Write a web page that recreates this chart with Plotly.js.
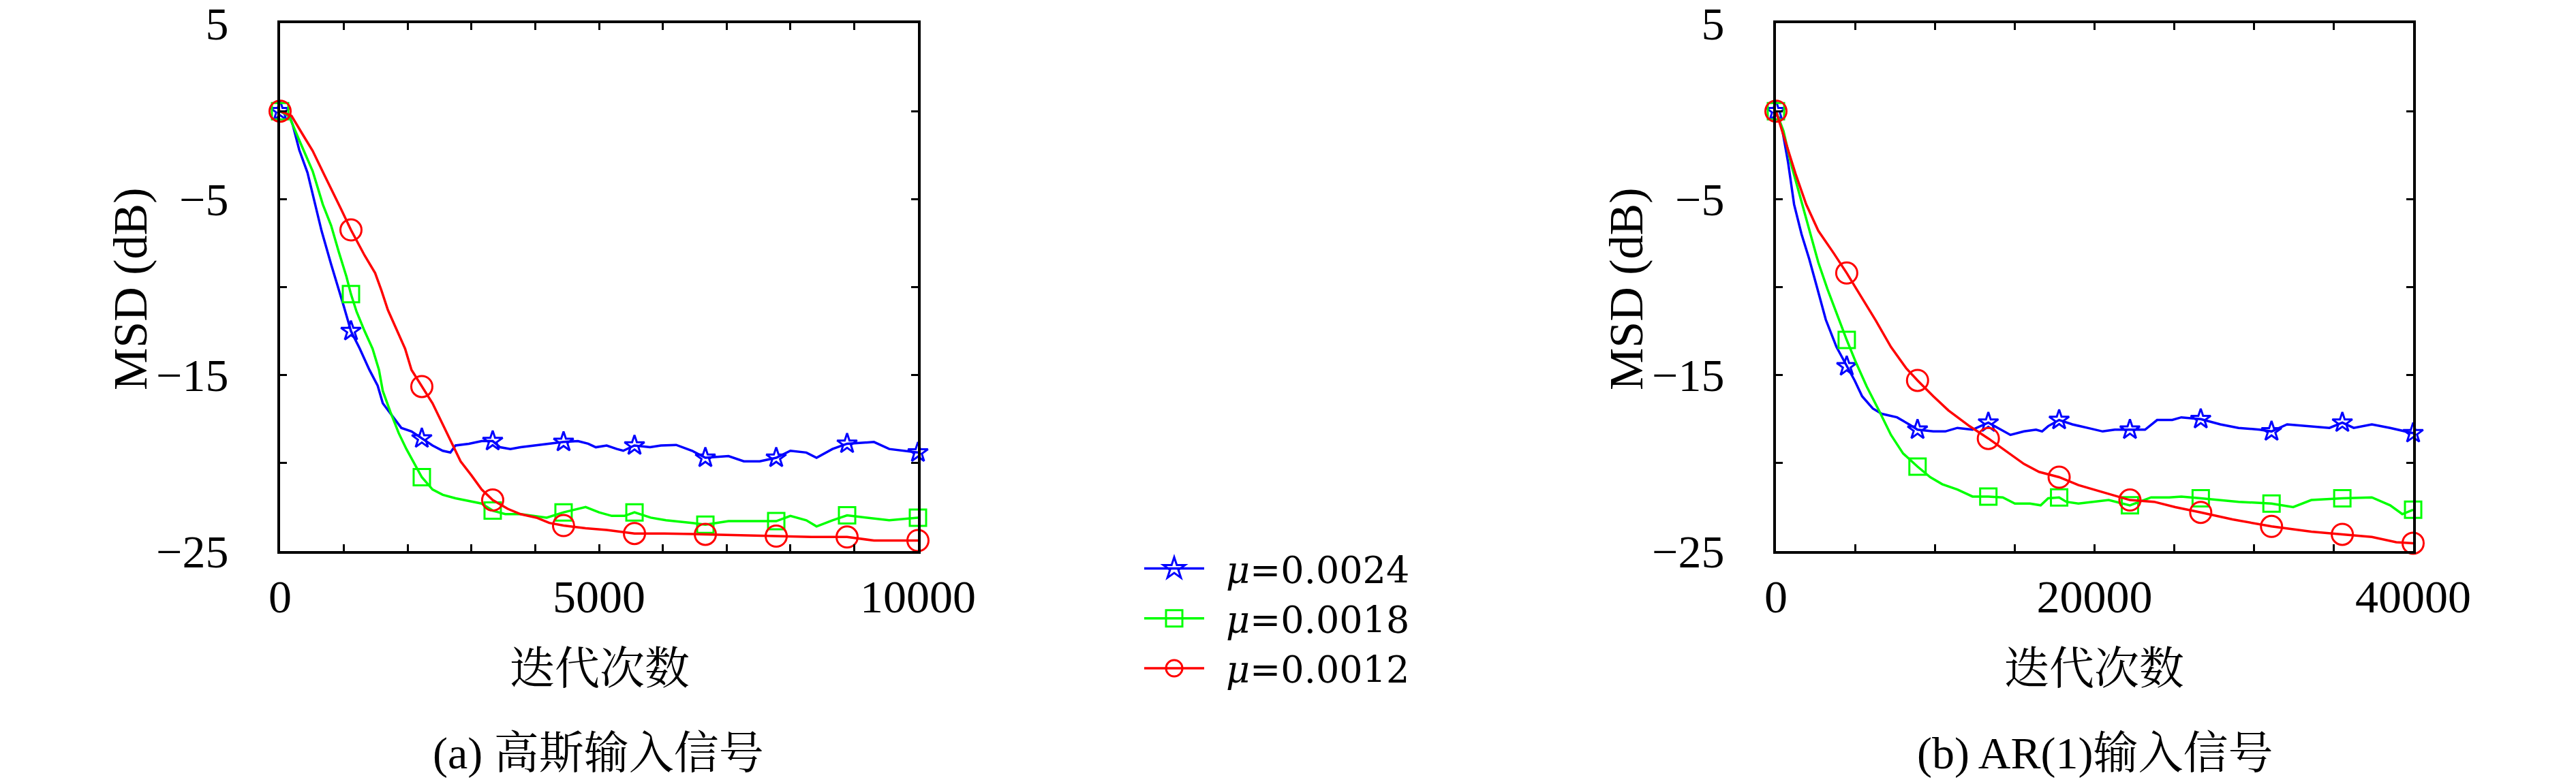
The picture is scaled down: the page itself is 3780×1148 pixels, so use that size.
<!DOCTYPE html>
<html><head><meta charset="utf-8">
<script src="https://cdn.plot.ly/plotly-3.0.1.min.js"></script>
<style>html,body{margin:0;padding:0;background:#fff}</style>
</head><body><div id="chart" style="width:3780px;height:1148px"></div>
<script>
// ---------- data ----------
const seriesNames = ['\u2002<i>μ</i>=0.0024', '\u2002<i>μ</i>=0.0018', '\u2002<i>μ</i>=0.0012'];

// (a) Gaussian input
const leftBlueX = [0,150,200,300,430,550,650,800,920,1000,1111,1250,1400,1530,1610,1730,1900,2060,2222,2390,2550,2670,2750,2960,3160,3333,3450,3610,3770,3980,4180,4444,4670,4830,4950,5120,5280,5380,5556,5800,5970,6210,6460,6667,7030,7270,7520,7778,8000,8250,8410,8660,8889,9310,9550,9800,10000];
const leftBlueY = [0,-0.3,-0.8,-2.2,-3.5,-5.3,-6.8,-8.7,-10.1,-11.1,-12.5,-13.5,-14.7,-15.6,-16.6,-17.2,-18.0,-18.2,-18.6,-19.0,-19.3,-19.4,-19.0,-18.9,-18.75,-18.75,-19.1,-19.2,-19.1,-19.0,-18.9,-18.8,-18.75,-18.9,-19.1,-19.0,-19.2,-19.3,-19.0,-19.1,-19.0,-18.97,-19.3,-19.7,-19.6,-19.9,-19.9,-19.7,-19.3,-19.4,-19.7,-19.2,-18.9,-18.8,-19.2,-19.3,-19.4];
const leftGreenX = [0,140,300,510,670,800,920,1040,1111,1200,1325,1450,1550,1610,1730,1860,1980,2100,2222,2390,2550,2750,2960,3160,3333,3530,3770,3980,4180,4444,4790,5000,5200,5400,5556,5810,6050,6460,6667,7030,7350,7778,8000,8250,8410,8660,8889,9230,9550,10000];
const leftGreenY = [0,-0.27,-1.65,-3.4,-5.3,-6.5,-8.0,-9.4,-10.4,-11.4,-12.5,-13.5,-14.7,-15.9,-17.1,-18.3,-19.2,-20.0,-20.8,-21.5,-21.8,-22.0,-22.15,-22.3,-22.7,-22.9,-22.9,-23.0,-23.1,-22.8,-22.5,-22.8,-23.0,-23.0,-22.8,-23.1,-23.25,-23.4,-23.5,-23.3,-23.3,-23.3,-23.0,-23.25,-23.6,-23.25,-22.97,-23.1,-23.25,-23.1];
const leftRedX = [0,180,350,510,670,820,960,1111,1325,1490,1590,1690,1815,1960,2060,2222,2390,2550,2710,2830,3000,3160,3333,3570,3770,4020,4220,4444,4790,5120,5556,6020,6667,7270,7778,8330,8889,9310,10000];
const leftRedY = [0,-0.27,-1.3,-2.25,-3.45,-4.6,-5.6,-6.75,-8.2,-9.2,-10.2,-11.3,-12.3,-13.5,-14.7,-15.65,-16.6,-17.8,-19.0,-19.9,-20.7,-21.5,-22.1,-22.6,-22.9,-23.1,-23.4,-23.55,-23.7,-23.8,-24.0,-24.0,-24.05,-24.1,-24.15,-24.2,-24.2,-24.4,-24.4];
const leftMarkX = [0,1111,2222,3333,4444,5556,6667,7778,8889,10000];
const leftBlueMk = [0,-12.5,-18.6,-18.75,-18.8,-19.0,-19.7,-19.7,-18.9,-19.4];
const leftGreenMk = [0,-10.4,-20.8,-22.7,-22.8,-22.8,-23.5,-23.3,-22.97,-23.1];
const leftRedMk = [0,-6.75,-15.65,-22.1,-23.55,-24.0,-24.05,-24.15,-24.2,-24.4];

// (b) AR(1) input
const rightBlueX = [0,380,760,1140,1610,2090,2560,3130,3800,4444,4940,5410,6080,6650,7600,8360,8889,9880,10630,11390,12340,13333,14140,14720,15570,16330,16710,17090,17778,18610,19560,20510,21270,22222,23170,23930,24880,25450,26667,27900,29040,30370,31111,32090,33610,34750,35556,36270,37410,38560,40000];
const rightBlueY = [0,-0.97,-2.9,-5.3,-7.0,-8.4,-9.95,-11.85,-13.4,-14.5,-15.3,-16.2,-16.9,-17.2,-17.4,-17.8,-18.1,-18.2,-18.2,-18.0,-18.1,-17.7,-18.1,-18.4,-18.2,-18.1,-18.2,-17.9,-17.55,-17.8,-18.0,-18.2,-18.1,-18.1,-18.1,-17.55,-17.55,-17.4,-17.5,-17.8,-18.0,-18.1,-18.2,-17.8,-17.9,-18.0,-17.7,-18.0,-17.8,-18.0,-18.3];
const rightGreenX = [0,475,950,1520,2090,2660,3230,3800,4444,5030,5700,6460,7220,7980,8889,9690,10440,11390,12340,13333,14240,15000,15950,16620,17090,17778,18230,18990,19940,20890,22222,23550,24690,25450,26667,27900,29040,31111,32470,33610,35556,37410,38560,39320,40000];
const rightGreenY = [0,-1.14,-3.0,-4.9,-6.8,-8.6,-10.1,-11.5,-13.0,-14.3,-15.65,-17.0,-18.4,-19.45,-20.2,-20.8,-21.2,-21.5,-21.9,-21.9,-21.95,-22.3,-22.3,-22.4,-22.0,-21.95,-22.2,-22.3,-22.2,-22.1,-22.4,-21.95,-21.95,-21.9,-22.0,-22.1,-22.2,-22.3,-22.5,-22.1,-22.0,-21.95,-22.4,-22.9,-22.65];
const rightRedX = [0,570,1230,1900,2660,3610,4444,5320,6270,7220,8170,8889,9880,10820,12150,13333,14430,15570,16520,17778,18990,20320,22222,23740,25070,26667,28660,31111,33610,35556,37410,38940,40000];
const rightRedY = [0,-1.66,-3.56,-5.3,-6.8,-8.05,-9.2,-10.5,-11.9,-13.4,-14.6,-15.3,-16.2,-17.0,-17.9,-18.6,-19.3,-20.05,-20.5,-20.8,-21.25,-21.6,-22.1,-22.2,-22.5,-22.8,-23.2,-23.6,-23.9,-24.05,-24.2,-24.5,-24.55];
const rightMarkX = [0,4444,8889,13333,17778,22222,26667,31111,35556,40000];
const rightBlueMk = [0,-14.5,-18.1,-17.7,-17.55,-18.1,-17.5,-18.2,-17.7,-18.3];
const rightGreenMk = [0,-13.0,-20.2,-21.9,-21.95,-22.4,-22.0,-22.3,-22.0,-22.65];
const rightRedMk = [0,-9.2,-15.3,-18.6,-20.8,-22.1,-22.8,-23.6,-24.05,-24.55];

// ticks
const yTickVals = [5,0,-5,-10,-15,-20,-25];
const yTickText = ['5','','−5','','−15','','−25'];
const leftXTickVals = [0,1000,2000,3000,4000,5000,6000,7000,8000,9000,10000];
const leftXTickText = ['0','','','','','5000','','','','','10000'];
const rightXTickVals = [0,5000,10000,15000,20000,25000,30000,35000,40000];
const rightXTickText = ['0','','','','20000','','','','40000'];

const xTitle = '迭代次数';
const yTitle = 'MSD (dB)';
const captionA = '(a) 高斯输入信号';
const captionB = '(b) AR(1)输入信号';

// ---------- drawing ----------
const W = 3780, H = 1148;
const px = v => v / W, py = v => 1 - v / H;
const SERIF = '"Liberation Serif", "Noto Serif CJK SC", "Noto Sans CJK SC", serif';
const LEGSERIF = '"DejaVu Serif", "Liberation Serif", serif';
const COLORS = ['#0000ff', '#00ff00', '#ff0000'];
const SYMBOLS = ['star-open', 'square-open', 'circle-open'];
const SIZES = [22, 24, 31];
const LW = 3.5;

const traces = [];
function addSeries(xs, ys, mx, my, i, xa, ya) {
  traces.push({x: xs, y: ys, xaxis: xa, yaxis: ya, mode: 'lines', type: 'scatter',
    line: {color: COLORS[i], width: LW}, showlegend: false, hoverinfo: 'skip', cliponaxis: false});
  traces.push({x: mx, y: my, xaxis: xa, yaxis: ya, mode: 'markers', type: 'scatter',
    marker: {symbol: SYMBOLS[i], size: SIZES[i], color: COLORS[i], line: {color: COLORS[i], width: 3}},
    showlegend: false, hoverinfo: 'skip', cliponaxis: false});
}
const leftSets = [[leftBlueX, leftBlueY, leftBlueMk], [leftGreenX, leftGreenY, leftGreenMk], [leftRedX, leftRedY, leftRedMk]];
const rightSets = [[rightBlueX, rightBlueY, rightBlueMk], [rightGreenX, rightGreenY, rightGreenMk], [rightRedX, rightRedY, rightRedMk]];
leftSets.forEach((s, i) => addSeries(s[0], s[1], leftMarkX, s[2], i, 'x', 'y'));
rightSets.forEach((s, i) => addSeries(s[0], s[1], rightMarkX, s[2], i, 'x2', 'y2'));
// legend-only entries
seriesNames.forEach((n, i) => traces.push({x: [null], y: [null], xaxis: 'x', yaxis: 'y', name: n,
  mode: 'lines+markers', type: 'scatter', line: {color: COLORS[i], width: LW},
  marker: {symbol: SYMBOLS[i], size: 16, color: COLORS[i], line: {color: COLORS[i], width: 2}}}));

const tickFont = {family: SERIF, size: 68, color: '#000'};
function axisBase(domain, range, vals, text, anchor, standoff) {
  return {domain, range, tickmode: 'array', tickvals: vals, ticktext: text, ticks: 'inside',
    ticklen: 10, tickwidth: 3, tickcolor: '#000', showline: true, linewidth: 4, linecolor: '#000',
    mirror: 'ticks', showgrid: false, zeroline: false, anchor, tickfont: tickFont,
    ticklabelstandoff: standoff, ticklabeloverflow: 'allow', fixedrange: true};
}
const yDom = [py(809), py(34)];
const layout = {
  width: W, height: H, margin: {l: 0, r: 0, t: 0, b: 0},
  paper_bgcolor: '#fff', plot_bgcolor: '#fff', showlegend: true,
  xaxis: axisBase([px(411), px(1347)], [0, 10000], leftXTickVals, leftXTickText, 'y', 4),
  yaxis: axisBase(yDom, [-25, 5], yTickVals, yTickText, 'x', 58),
  xaxis2: axisBase([px(2606), px(3541)], [0, 40000], rightXTickVals, rightXTickText, 'y2', 4),
  yaxis2: axisBase(yDom, [-25, 5], yTickVals, yTickText, 'x2', 58),
  legend: {x: px(1674), y: py(793), xanchor: 'left', yanchor: 'top', bgcolor: 'rgba(0,0,0,0)',
    borderwidth: 0, itemwidth: 88, font: {family: LEGSERIF, size: 54, color: '#000'}, tracegroupgap: 0},
  annotations: [
    {text: xTitle, x: px(880), y: py(981)},
    {text: xTitle, x: px(3073), y: py(981)},
    {text: yTitle, x: px(191), y: py(424), textangle: -90, font: {family: SERIF, size: 70, color: '#000'}},
    {text: yTitle, x: px(2386), y: py(424), textangle: -90, font: {family: SERIF, size: 70, color: '#000'}},
    {text: captionA, x: px(878), y: py(1106)},
    {text: captionB, x: px(3074), y: py(1106)}
  ].map(a => Object.assign({xref: 'paper', yref: 'paper', showarrow: false, xanchor: 'center',
    yanchor: 'middle', font: {family: SERIF, size: 66, color: '#000'}}, a))
};
Plotly.newPlot('chart', traces, layout, {staticPlot: true, displayModeBar: false}).then(() => {
  document.querySelectorAll('#chart .legend .legendpoints path.scatterpts').forEach(p => {
    const t = p.getAttribute('transform') || '';
    p.setAttribute('transform', t + ' scale(1.5)');
  });
});
</script></body></html>
